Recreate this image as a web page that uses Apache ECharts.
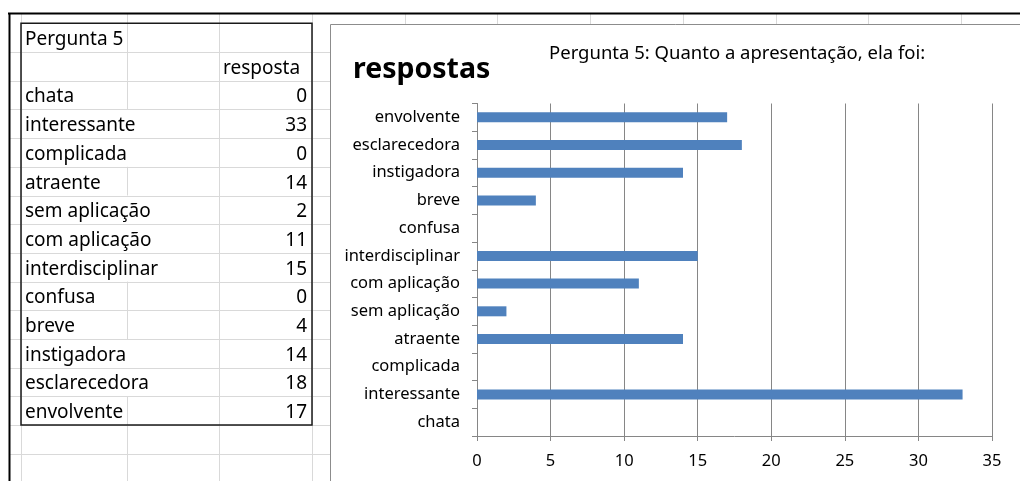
<!DOCTYPE html>
<html>
<head>
<meta charset="utf-8">
<script src="https://cdn.jsdelivr.net/npm/echarts@6/dist/echarts.min.js"></script>
<style>
  html, body { margin: 0; padding: 0; background: #fff; }
  #chart { width: 1020px; height: 481px; }
</style>
</head>
<body>
<div id="chart"></div>
<script>
const tableTitle = 'Pergunta 5'
const columnHeader = 'resposta'
const seriesName = 'respostas'
const chartTitle = 'Pergunta 5: Quanto a apresentação, ela foi:'
// table order top -> bottom, which is also the chart order bottom -> top
const categories = ['chata', 'interessante', 'complicada', 'atraente', 'sem aplicação', 'com aplicação',
  'interdisciplinar', 'confusa', 'breve', 'instigadora', 'esclarecedora', 'envolvente']
const values = [0, 33, 0, 14, 2, 11, 15, 0, 4, 14, 18, 17]
const xTicks = [0, 5, 10, 15, 20, 25, 30, 35]

const font = '"Noto Sans", sans-serif'
const gridGray = '#d9d9d9'
const rowTop = 23.3
const rowH = 28.7
const tableFont = 19

// measure text, to know where excel hides the column line under overflowing text
const ctx = document.createElement('canvas').getContext('2d')
ctx.font = tableFont + 'px ' + font
function textW(s) { return ctx.measureText(s).width }

function line(x1, y1, x2, y2, stroke, lineWidth) {
  return { type: 'line', silent: true, shape: { x1, y1, x2, y2 }, style: { stroke, lineWidth } }
}
function text(s, x, y, align) {
  return {
    type: 'text', silent: true,
    style: { text: s, x, y, align, verticalAlign: 'middle', fill: '#000', fontSize: tableFont, fontFamily: font }
  }
}

const sheet = []
const nRows = categories.length + 2
// horizontal sheet lines
for (let k = 1; k <= nRows + 1; k++) {
  const y = Math.round(rowTop + k * rowH) + 0.5
  sheet.push(line(9, y, 330, y, gridGray, 1))
}
// vertical sheet lines
;[21.5, 219.5, 312.5].forEach(x => sheet.push(line(x, 13, x, 481, gridGray, 1)))
sheet.push(line(127.5, 13, 127.5, rowTop, gridGray, 1))
const rowTexts = [tableTitle, ''].concat(categories)
rowTexts.forEach((s, i) => {
  if (25 + textW(s) < 126) {
    sheet.push(line(127.5, rowTop + i * rowH, 127.5, rowTop + (i + 1) * rowH, gridGray, 1))
  }
})
sheet.push(line(127.5, rowTop + nRows * rowH, 127.5, 481, gridGray, 1))
for (let x = 404.7; x < 1020; x += 92.7) {
  sheet.push(line(Math.round(x) + 0.5, 13, Math.round(x) + 0.5, 24, gridGray, 1))
}

// chart box
sheet.push({
  type: 'rect', silent: true,
  shape: { x: 330.5, y: 24.5, width: 720, height: 480 },
  style: { fill: '#fff', stroke: '#8c8c8c', lineWidth: 1 }
})
// table frame
sheet.push({
  type: 'rect', silent: true,
  shape: { x: 21, y: rowTop, width: 291, height: nRows * rowH },
  style: { fill: 'none', stroke: '#1a1a1a', lineWidth: 1.5 }
})
// screenshot frame
sheet.push(line(8, 13.5, 1020, 13.5, '#000', 2))
sheet.push(line(9.5, 13, 9.5, 481, '#000', 2))

// table texts (excel sits them a bit low in the row)
const rowMid = i => rowTop + i * rowH + rowH / 2 + 2
sheet.push(text(tableTitle, 25, rowMid(0), 'left'))
sheet.push(text(columnHeader, 223, rowMid(1), 'left'))
categories.forEach((c, i) => {
  sheet.push(text(c, 25, rowMid(i + 2), 'left'))
  sheet.push(text(String(values[i]), 307, rowMid(i + 2), 'right'))
})

const axisGray = '#868686'
const chart = echarts.init(document.getElementById('chart'))
chart.setOption({
  animation: false,
  graphic: { elements: sheet },
  title: [{
    text: chartTitle, left: 549, top: 44, padding: 0,
    textStyle: { fontSize: 18.5, fontWeight: 'normal', color: '#000', fontFamily: font }
  }, {
    text: seriesName, left: 353, top: 55, padding: 0,
    textStyle: { fontSize: 28.5, fontWeight: 'bold', color: '#000', fontFamily: font }
  }],
  grid: { left: 477, right: 28, top: 103.5, bottom: 45, containLabel: false },
  xAxis: {
    type: 'value',
    min: xTicks[0],
    max: xTicks[xTicks.length - 1],
    interval: xTicks[1] - xTicks[0],
    axisLine: { show: true, lineStyle: { color: axisGray } },
    axisTick: { show: true, length: 5, lineStyle: { color: axisGray } },
    splitLine: { show: true, lineStyle: { color: axisGray } },
    axisLabel: { margin: 17, fontSize: 16.5, color: '#000', fontFamily: font }
  },
  yAxis: {
    type: 'category',
    data: categories,
    axisLine: { show: true, lineStyle: { color: axisGray } },
    axisTick: { show: true, length: 5, lineStyle: { color: axisGray } },
    axisLabel: { margin: 17, fontSize: 16.5, color: '#000', fontFamily: font }
  },
  series: [{
    name: seriesName,
    type: 'bar',
    barWidth: 10,
    data: values,
    itemStyle: { color: '#4f81bd' }
  }]
})
</script>
</body>
</html>
